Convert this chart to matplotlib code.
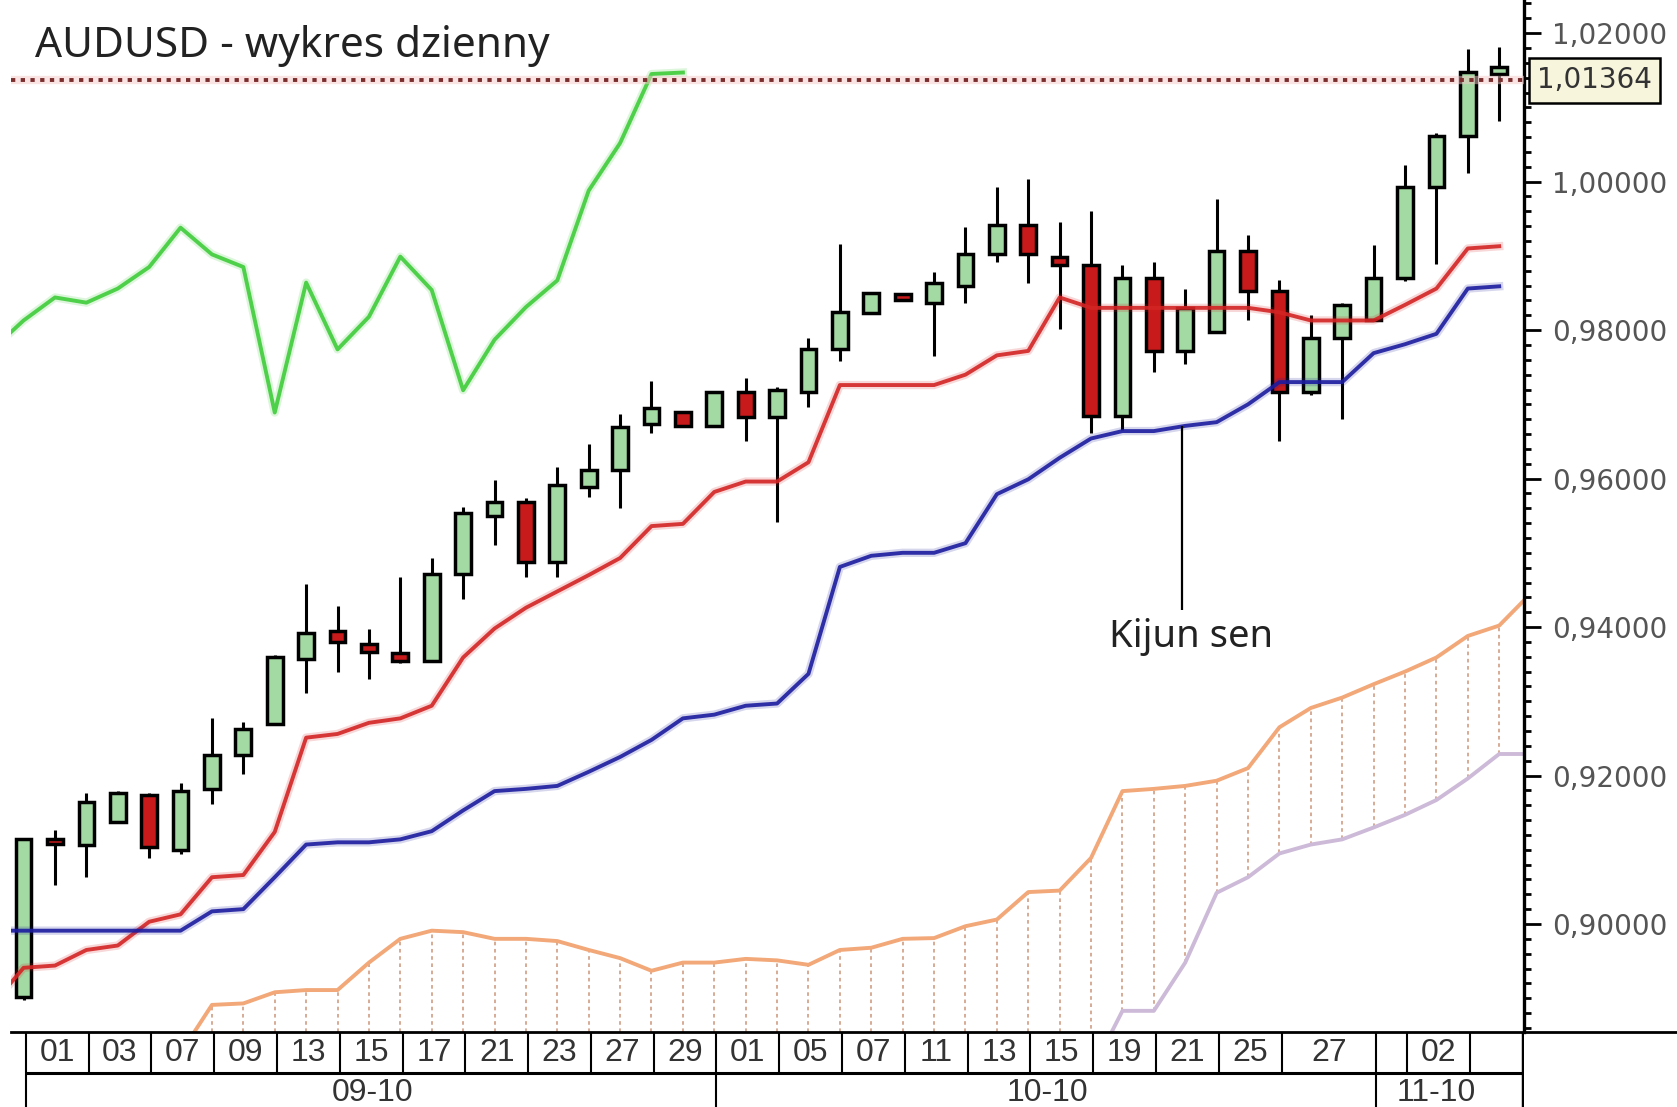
import matplotlib
matplotlib.use('Agg')
import matplotlib.pyplot as plt
from matplotlib.lines import Line2D
from matplotlib.patches import Rectangle
from matplotlib.ticker import MultipleLocator, FuncFormatter

# AUDUSD, wykres dzienny 31.08 - 04.11.2010
opens = [0.8902, 0.9115, 0.9107, 0.9138, 0.9174, 0.9099, 0.9182, 0.9228, 0.9269, 0.9357,
         0.9395, 0.9377, 0.9365, 0.9354, 0.9471, 0.9549, 0.9568, 0.9488, 0.9589, 0.9611,
         0.9673, 0.9690, 0.9671, 0.9716, 0.9683, 0.9716, 0.9774, 0.9823, 0.9849, 0.9837,
         0.9859, 0.9903, 0.9941, 0.9899, 0.9888, 0.9684, 0.9870, 0.9772, 0.9798, 0.9906,
         0.9853, 0.9716, 0.9790, 0.9813, 0.9870, 0.9993, 1.0062, 1.0145]
highs = [0.9114, 0.9127, 0.9176, 0.9179, 0.9177, 0.9190, 0.9277, 0.9272, 0.9363, 0.9458,
         0.9429, 0.9398, 0.9467, 0.9493, 0.9562, 0.9598, 0.9574, 0.9615, 0.9646, 0.9687,
         0.9731, 0.9690, 0.9716, 0.9736, 0.9723, 0.9790, 0.9916, 0.9850, 0.9849, 0.9878,
         0.9939, 0.9993, 1.0003, 0.9945, 0.9960, 0.9888, 0.9892, 0.9856, 0.9976, 0.9928,
         0.9867, 0.9821, 0.9837, 0.9914, 1.0022, 1.0065, 1.0179, 1.0181]
lows = [0.8898, 0.9052, 0.9063, 0.9138, 0.9089, 0.9094, 0.9161, 0.9202, 0.9269, 0.9311,
        0.9340, 0.9330, 0.9352, 0.9354, 0.9438, 0.9510, 0.9467, 0.9467, 0.9575, 0.9560,
        0.9661, 0.9671, 0.9671, 0.9651, 0.9542, 0.9697, 0.9758, 0.9823, 0.9840, 0.9765,
        0.9836, 0.9892, 0.9863, 0.9801, 0.9661, 0.9666, 0.9743, 0.9755, 0.9798, 0.9813,
        0.9651, 0.9713, 0.9680, 0.9813, 0.9866, 0.9889, 1.0011, 1.0082]
closes = [0.9114, 0.9108, 0.9164, 0.9176, 0.9104, 0.9179, 0.9228, 0.9262, 0.9359, 0.9392,
          0.9380, 0.9366, 0.9354, 0.9471, 0.9553, 0.9568, 0.9488, 0.9592, 0.9611, 0.9669,
          0.9695, 0.9671, 0.9716, 0.9683, 0.9719, 0.9774, 0.9824, 0.9850, 0.9840, 0.9863,
          0.9902, 0.9941, 0.9903, 0.9888, 0.9684, 0.9870, 0.9772, 0.9830, 0.9906, 0.9853,
          0.9716, 0.9790, 0.9834, 0.9870, 0.9993, 1.0062, 1.0148, 1.0154]

# linie Ichimoku - od swiecy -1
tenkan = [0.8891, 0.8941, 0.8944, 0.8965, 0.8971, 0.9003, 0.9013, 0.9063, 0.9066, 0.9124,
          0.9251, 0.9256, 0.9271, 0.9277, 0.9294, 0.9359, 0.9398, 0.9426, 0.9448, 0.9470,
          0.9493, 0.9536, 0.9539, 0.9582, 0.9596, 0.9596, 0.9622, 0.9726, 0.9726, 0.9726,
          0.9726, 0.9740, 0.9766, 0.9772, 0.9844, 0.9830, 0.9830, 0.9830, 0.9830, 0.9830,
          0.9830, 0.9824, 0.9813, 0.9813, 0.9813, 0.9834, 0.9856, 0.9910, 0.9913]
kijun = [0.8991, 0.8991, 0.8991, 0.8991, 0.8991, 0.8991, 0.8991, 0.9017, 0.9020, 0.9063,
         0.9107, 0.9110, 0.9110, 0.9114, 0.9125, 0.9153, 0.9179, 0.9182, 0.9186, 0.9205,
         0.9225, 0.9248, 0.9277, 0.9282, 0.9294, 0.9297, 0.9337, 0.9481, 0.9496, 0.9500,
         0.9500, 0.9513, 0.9579, 0.9599, 0.9628, 0.9654, 0.9664, 0.9664, 0.9671, 0.9676,
         0.9700, 0.9730, 0.9730, 0.9730, 0.9769, 0.9781, 0.9795, 0.9856, 0.9859]
chikou = [0.9774, 0.9813, 0.9844, 0.9837, 0.9856, 0.9885, 0.9938, 0.9902, 0.9885, 0.9689,
          0.9864, 0.9774, 0.9818, 0.9899, 0.9854, 0.9719, 0.9787, 0.9831, 0.9867, 0.9988,
          1.0052, 1.0145, 1.0147]
# chmura - senkou A od swiecy 5, senkou B od swiecy 34
senkou_a = [0.8826, 0.8891, 0.8893, 0.8908, 0.8911, 0.8911, 0.8948, 0.8980, 0.8991, 0.8989,
            0.8980, 0.8980, 0.8977, 0.8965, 0.8954, 0.8937, 0.8948, 0.8948, 0.8953, 0.8951,
            0.8945, 0.8965, 0.8968, 0.8980, 0.8981, 0.8997, 0.9006, 0.9043, 0.9045, 0.9089,
            0.9179, 0.9182, 0.9186, 0.9193, 0.9210, 0.9265, 0.9291, 0.9305, 0.9323, 0.9340,
            0.9359, 0.9388, 0.9402, 0.9445]
senkou_b = [0.8800, 0.8883, 0.8883, 0.8948, 0.9042, 0.9063, 0.9095, 0.9107, 0.9114, 0.9130,
            0.9147, 0.9167, 0.9196, 0.9229, 0.9229]

day_labels = ['01', '03', '07', '09', '13', '15', '17', '21', '23', '27', '29',
              '01', '05', '07', '11', '13', '15', '19', '21', '25', '27', '', '02', '']
month_labels = ['09-10', '10-10', '11-10']
last_price = 1.01364

# uklad
XMIN, XMAX = -0.41, 47.79
YMIN, YMAX = 0.88545, 1.02447
day_seps = [0, 2, 4, 6, 8, 10, 12, 14, 16, 18, 20, 22, 24, 26, 28, 30, 32, 34, 36, 38,
            40, 43, 44, 46]
month_seps = [0, 22, 43]
month_pos = [11.1, 32.6, 45.0]

fig = plt.figure(figsize=(16.77, 11.07), dpi=100)
L, B = 10.7 / 1677, 1 - 1032 / 1107
W = (1524 - 10.7) / 1677
ax = fig.add_axes([L, B, W, 1 - B])
ax.set_xlim(XMIN, XMAX)
ax.set_ylim(YMIN, YMAX)

# chmura
xa = list(range(5, 5 + len(senkou_a)))
xb = list(range(34, 34 + len(senkou_b)))
for i, a in zip(xa, senkou_a):
    bottom = YMIN
    if i in xb:
        bottom = senkou_b[xb.index(i)]
    ax.vlines(i, bottom, a, color='#d4a58c', lw=1.3, linestyles=(0, (2, 2)), zorder=1)
ax.plot(xa, senkou_a, color='#f2a878', lw=2.8, zorder=2)
ax.plot(xb, senkou_b, color='#cdbad8', lw=2.8, zorder=2)

# swiece
w = 0.5
for i, (o, h, l, c) in enumerate(zip(opens, highs, lows, closes)):
    fc = '#a3d9a3' if c >= o else '#c81a1a'
    ax.vlines(i, l, h, color='black', lw=2.2, zorder=3)
    ax.add_patch(Rectangle((i - w / 2, min(o, c)), w, max(abs(c - o), 0.0004),
                           fc=fc, ec='black', lw=2.5, zorder=4))

# linie
xt = list(range(-1, len(tenkan) - 1))
xk = list(range(-1, len(kijun) - 1))
xc = list(range(-1, len(chikou) - 1))
for xs, ys, col in [(xc, chikou, '#3fcc3a'), (xt, tenkan, '#d42424'), (xk, kijun, '#1c1ca0')]:
    ax.plot(xs, ys, color=col, lw=6, alpha=0.18, zorder=5)
    ax.plot(xs, ys, color=col, lw=2.8, alpha=0.9, zorder=5)

ax.axhline(last_price, color='#f4c8c8', lw=6, alpha=0.5, zorder=6)
ax.axhline(last_price, color='#7a2e2e', lw=2.8, linestyle=(0, (1.1, 1.4)), zorder=6)

# os y po prawej
for s in ['top', 'left', 'bottom']:
    ax.spines[s].set_visible(False)
ax.spines['right'].set_linewidth(2.4)
ax.set_xticks([])
ax.yaxis.tick_right()
ax.yaxis.set_major_locator(MultipleLocator(0.02))
ax.yaxis.set_minor_locator(MultipleLocator(0.002))
ax.yaxis.set_major_formatter(FuncFormatter(lambda v, _: f'{v:.5f}'.replace('.', ',')))
ax.tick_params(axis='y', which='major', length=12, width=2, pad=8, labelsize=20,
               labelcolor='#555555')
ax.tick_params(axis='y', which='minor', length=5, width=2)

ax.annotate(f'{last_price:.5f}'.replace('.', ','), xy=(1.0085, last_price),
            xycoords=('axes fraction', 'data'), ha='left', va='center', fontsize=20,
            color='#333333', annotation_clip=False, zorder=10,
            bbox=dict(boxstyle='square,pad=0.3', fc='#f7f5dc', ec='black', lw=1.8))

fig.text(35 / 1677, 1 - 46 / 1107, 'AUDUSD - wykres dzienny', fontsize=30.5,
         family=['Noto Sans', 'DejaVu Sans'], color='#222222', va='center', ha='left')

# podpis Kijun sen
ax.vlines(36.89, 0.94235, 0.96713, color='black', lw=1.6, zorder=6)
ax.text(37.2, 0.9386, 'Kijun sen', fontsize=27.5, family=['Noto Sans', 'DejaVu Sans'],
        color='#222222', ha='center', va='center')

# pasek dat
axd = fig.add_axes([L, 0, W, B])
axd.set_xlim(XMIN, XMAX)
axd.set_ylim(0, 1)
axd.axis('off')
mid = 0.457
fig.add_artist(Line2D([10 / 1568, 1], [B, B], color='black', lw=2))
axd.hlines(mid, day_seps[0] + 0.07, XMAX, color='black', lw=2.2)
axd.vlines([s + 0.07 for s in day_seps[1:]], mid, 1, color='black', lw=1.5)
axd.vlines([s + 0.07 for s in month_seps], 0, mid, color='black', lw=1.5)
axd.vlines(day_seps[0] + 0.07, mid, 1, color='black', lw=1.5)
axd.vlines(XMAX, 0, 1, color='black', lw=3.2)
edges = day_seps + [XMAX]
font_d = ['Liberation Sans Narrow', 'Liberation Sans', 'DejaVu Sans']
for k, lab in enumerate(day_labels):
    xm = (edges[k] + edges[k + 1]) / 2 + 0.07
    axd.text(xm, 0.72, lab, ha='center', va='center', fontsize=23, family=font_d,
             color='#333333')
for xm, lab in zip(month_pos, month_labels):
    axd.text(xm, 0.19, lab, ha='center', va='center', fontsize=23, family=font_d,
             color='#333333')

fig.savefig('out.png', dpi=100, facecolor='white')
